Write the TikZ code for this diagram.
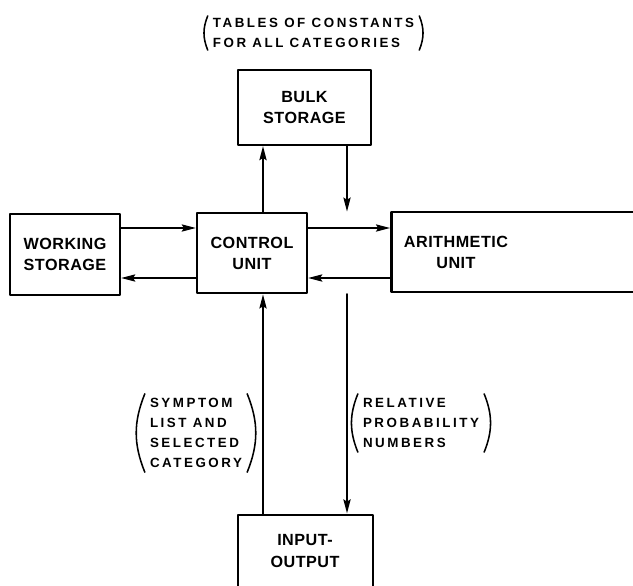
\documentclass[tikz,border=0pt]{standalone}
\usepackage{fontspec}
\setmainfont{Liberation Sans}
\newfontfamily\boxfont[LetterSpace=3]{Liberation Sans}
\newfontfamily\notefont[LetterSpace=19]{Liberation Sans}
\usepackage{tikz}
\usetikzlibrary{arrows.meta}
\begin{document}
\begin{tikzpicture}[x=0.025cm, y=-0.025cm, line cap=round, line join=round,
    >={Stealth[length=10pt, width=5pt, inset=1.5pt]},
    unit/.style={draw, line width=1.7pt, align=center, inner sep=0pt,
      font=\boxfont\bfseries\fontsize{11.5}{15}\selectfont},
    unittext/.style={align=center, inner sep=0pt,
      font=\boxfont\bfseries\fontsize{11.5}{15}\selectfont},
    note/.style={align=left, inner xsep=3.5pt, inner ysep=3pt,
      font=\notefont\bfseries\fontsize{9.5}{14.2}\selectfont},
    flow/.style={->, line width=1.7pt},
    paren/.style={line width=1.1pt}]
  \useasboundingbox (0,0) rectangle (633,586);
  %--- Control unit
    \node[unit, minimum width=78pt, minimum height=57pt] (ctrl) at (252,253) {CONTROL\\UNIT};
  %--- Bulk storage
    \node[unit, minimum width=94.5pt, minimum height=53pt] (bulk) at (304.5,107.5) {BULK\\STORAGE};
  %--- Working storage
    \node[unit, minimum width=78pt, minimum height=57.5pt] (work) at (65,254.5) {WORKING\\STORAGE};
  %--- Arithmetic unit (runs off the right edge)
    \node[unit, minimum width=190pt, minimum height=57pt] (arith) at (525,252) {};
    \node[unittext] (arithtxt) at (456,252) {ARITHMETIC\\UNIT};
  %--- Input-output (runs off the bottom edge)
    \node[unit, minimum width=96pt, minimum height=75pt] (io) at (305.5,567.5) {};
    \node[unittext] (iotxt) at (305,551) {INPUT-\\OUTPUT};
  %--- lanes of the connectors
    \coordinate (lx) at (263,0);
    \coordinate (rx) at (347,0);
    \coordinate (uy) at (0,228);
    \coordinate (dy) at (0,278);
  %--- Bulk storage <-> control
    \draw[flow] (ctrl.north -| lx) -- (bulk.south -| lx);
    \draw[flow] (bulk.south -| rx) -- (ctrl.north -| rx);
  %--- Working storage <-> control
    \draw[flow] (work.east |- uy) -- (ctrl.west |- uy);
    \draw[flow] (ctrl.west |- dy) -- (work.east |- dy);
  %--- Control <-> arithmetic
    \draw[flow] (ctrl.east |- uy) -- (arith.west |- uy);
    \draw[flow] (arith.west |- dy) -- (ctrl.east |- dy);
  %--- Input-output <-> control
    \draw[flow] (io.north -| lx) -- (ctrl.south -| lx);
    \draw[flow] (ctrl.south -| rx) -- (io.north -| rx);
  %--- Notes
    \node[note, inner ysep=1.5pt] (tables) at (313.5,33) {TABLES OF CONSTANTS\\FOR ALL CATEGORIES};
    \draw[paren] (tables.north west) to[bend right=22] (tables.south west);
    \draw[paren] (tables.north east) to[bend left=22] (tables.south east);
    \node[note] (symptom) at (196,433) {SYMPTOM\\LIST AND\\SELECTED\\CATEGORY};
    \draw[paren] (symptom.north west) to[bend right=22] (symptom.south west);
    \draw[paren] (symptom.north east) to[bend left=22] (symptom.south east);
    \node[note] (relprob) at (421,423) {RELATIVE\\PROBABILITY\\NUMBERS};
    \draw[paren] (relprob.north west) to[bend right=22] (relprob.south west);
    \draw[paren] (relprob.north east) to[bend left=22] (relprob.south east);
\end{tikzpicture}
\end{document}
